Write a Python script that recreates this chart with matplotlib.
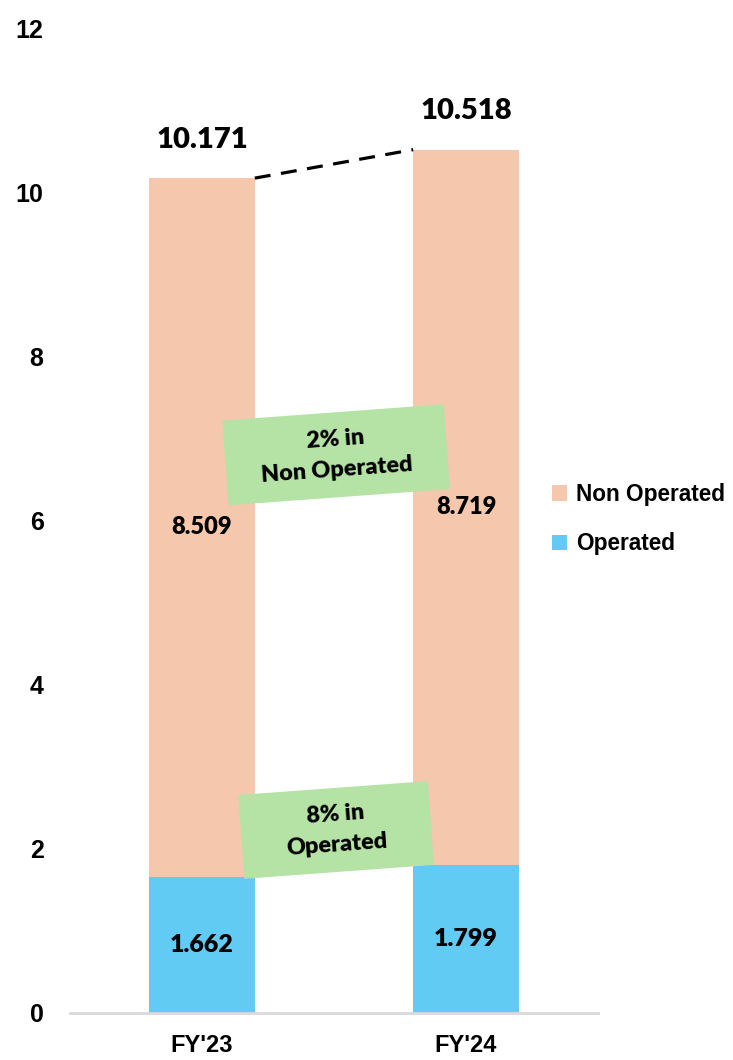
import numpy as np
import matplotlib
matplotlib.use("Agg")
import matplotlib.pyplot as plt
from matplotlib.patches import Rectangle
from matplotlib.transforms import Affine2D, IdentityTransform

# ── data ─────────────────────────────────────────────────────────────────────
years = ["FY'23", "FY'24"]
operated = [1.662, 1.799]
non_operated = [8.509, 8.719]
totals = [10.171, 10.518]

notes = ["2% in\nNon Operated", "8% in\nOperated"]
note_levels = [6.80, 2.23]          # y (data) centre of each callout
note_sizes = [(222, 85), (190, 84)]  # box size in px

C_NONOP = "#F5C7AC"
C_OP = "#61CBF3"
C_NOTE = "#B5E3A5"
C_AXIS = "#D9D9D9"

TICK_FONT = ["Liberation Sans Narrow", "Liberation Sans", "DejaVu Sans"]
LABEL_FONT = ["Lato", "DejaVu Sans"]
LABEL_WEIGHT = 800

W, H, DPI = 733, 1060, 100
fig = plt.figure(figsize=(W / DPI, H / DPI), dpi=DPI)
ax = fig.add_axes([70 / W, 47 / H, 528 / W, 985 / H])

x = np.arange(len(years))
bw = 0.40
ax.bar(x, operated, bw, color=C_OP, linewidth=0, label="Operated")
ax.bar(x, non_operated, bw, bottom=operated, color=C_NONOP, linewidth=0,
       label="Non Operated")

ax.set_xlim(-0.5, 1.5)
ax.set_ylim(0, 12)

# ── axes styling ─────────────────────────────────────────────────────────────
for side in ["left", "right", "top"]:
    ax.spines[side].set_visible(False)
ax.spines["bottom"].set_color(C_AXIS)
ax.spines["bottom"].set_linewidth(2)

ax.set_yticks(range(0, 13, 2))
ax.set_xticks(x)
ax.set_xticklabels(years)
ax.tick_params(axis="both", length=0)
ax.tick_params(axis="y", pad=19)
ax.tick_params(axis="x", pad=15)
for lab in ax.get_yticklabels():
    lab.set_fontfamily(["Liberation Sans", "DejaVu Sans"])
    lab.set_fontweight("bold")
    lab.set_fontsize(18)
for lab in ax.get_xticklabels():
    lab.set_fontfamily(TICK_FONT)
    lab.set_fontweight("bold")
    lab.set_fontsize(17)

# ── value labels ─────────────────────────────────────────────────────────────
for i in range(len(years)):
    ax.text(x[i], operated[i] / 2, f"{operated[i]:.3f}", ha="center", va="center",
            fontsize=18, fontweight=LABEL_WEIGHT, family=LABEL_FONT)
    ax.text(x[i], operated[i] + non_operated[i] / 2, f"{non_operated[i]:.3f}",
            ha="center", va="center", fontsize=17, fontweight=LABEL_WEIGHT,
            family=LABEL_FONT)
    ax.text(x[i], totals[i] + 0.47, f"{totals[i]:.3f}", ha="center", va="center",
            fontsize=21, fontweight=LABEL_WEIGHT, family=LABEL_FONT)

# dashed growth line between bar tops
ax.plot([x[0] + bw / 2, x[1] - bw / 2], totals, color="black", lw=2.3,
        linestyle=(0, (5, 3.3)))

# ── rotated callouts ─────────────────────────────────────────────────────────
angle = 4.2
mid = (x[0] + x[1]) / 2 + 0.008
for txt, lvl, (bwpx, bhpx) in zip(notes, note_levels, note_sizes):
    cx, cy = ax.transData.transform((mid, lvl))
    rect = Rectangle((cx - bwpx / 2, cy - bhpx / 2), bwpx, bhpx,
                     facecolor=C_NOTE, edgecolor="none", clip_on=False,
                     transform=Affine2D().rotate_deg_around(cx, cy, angle)
                     + IdentityTransform(), zorder=3)
    ax.add_patch(rect)
    ax.text(mid, lvl, txt, ha="center", va="center", rotation=angle,
            rotation_mode="anchor", fontsize=16.8, fontweight=LABEL_WEIGHT,
            family=LABEL_FONT, linespacing=1.55, zorder=4)

# ── legend ───────────────────────────────────────────────────────────────────
handles, labels = ax.get_legend_handles_labels()
fig.legend(handles[::-1], labels[::-1], loc="center left",
           bbox_to_anchor=(543 / W, (H - 519) / H), frameon=False,
           prop={"family": ["Liberation Sans", "DejaVu Sans"], "weight": "bold",
                 "size": 16.3},
           handlelength=0.65, handleheight=0.65, handletextpad=0.4,
           labelspacing=1.15, borderaxespad=0)

fig.savefig("out.png", dpi=DPI)
plt.close(fig)
